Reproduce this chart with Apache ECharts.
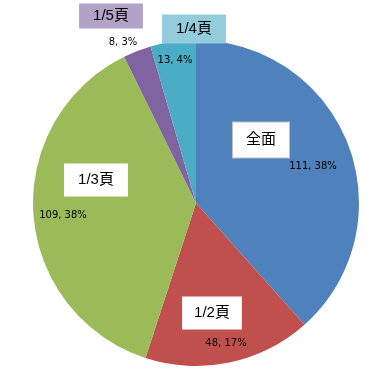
<!DOCTYPE html>
<html>
<head>
<meta charset="utf-8">
<script src="https://cdn.jsdelivr.net/npm/echarts@6/dist/echarts.min.js"></script>
<style>html,body{margin:0;padding:0;background:#fff;}#c{width:388px;height:385px;}</style>
</head>
<body>
<div id="c"></div>
<script>
var categories = ['全面', '1/2頁', '1/3頁', '1/5頁', '1/4頁'];
var values = [111, 48, 109, 8, 13];
var colors = ['#4F81BD', '#C0504D', '#9BBB59', '#8064A2', '#4BACC6'];

// label anchors, relative to the pie centre (px)
var nameLabelOffsets = [[65, -63], [16, 110], [-100, -23], [-85, -187], [-2, -174]];
var valueLabelOffsets = [[117, -37], [30, 140], [-133, 12], [-73, -161], [-21, -143]];
var nameBoxStyles = [
  {bg: '#FFFFFF', border: '#BFBFBF', pad: [10, 13]},
  {bg: '#FFFFFF', border: null, pad: [9, 12]},
  {bg: '#FFFFFF', border: null, pad: [9, 14]},
  {bg: '#B3A2C7', border: null, pad: [5, 14]},
  {bg: '#93CDDD', border: null, pad: [7, 14]}
];

var total = values.reduce(function (a, b) { return a + b; }, 0);
var CX = 196, CY = 203, R = 163;
var chart = echarts.init(document.getElementById('c'));

var valueData = categories.map(function (n, i) {
  return {name: n, value: values[i], itemStyle: {color: colors[i]}};
});
var nameData = categories.map(function (n, i) {
  var s = nameBoxStyles[i];
  return {
    name: n, value: values[i],
    label: {
      backgroundColor: s.bg,
      borderColor: s.border || 'transparent',
      borderWidth: s.border ? 1 : 0,
      padding: s.pad
    }
  };
});

chart.setOption({
  animation: false,
  series: [
    {
      type: 'pie',
      center: [CX, CY],
      radius: R,
      startAngle: 90,
      clockwise: true,
      data: valueData,
      itemStyle: {borderWidth: 0},
      emphasis: {disabled: true},
      labelLine: {show: false},
      label: {
        show: true,
        position: 'inside',
        color: '#000',
        fontFamily: 'DejaVu Sans',
        fontSize: 10,
        formatter: function (p) { return p.value + ', ' + Math.round(p.value / total * 100) + '%'; }
      },
      labelLayout: function (p) {
        var o = valueLabelOffsets[p.dataIndex];
        return {x: CX + o[0], y: CY + o[1], align: 'center', verticalAlign: 'middle'};
      }
    },
    {
      type: 'pie',
      center: [CX, CY],
      radius: R,
      startAngle: 90,
      clockwise: true,
      silent: true,
      data: nameData,
      itemStyle: {color: 'rgba(0,0,0,0)', borderWidth: 0},
      emphasis: {disabled: true},
      labelLine: {show: false},
      label: {
        show: true,
        position: 'inside',
        color: '#000',
        fontFamily: '"Liberation Sans", "Noto Sans CJK JP"',
        fontSize: 15,
        formatter: '{b}'
      },
      labelLayout: function (p) {
        var o = nameLabelOffsets[p.dataIndex];
        return {x: CX + o[0], y: CY + o[1], align: 'center', verticalAlign: 'middle'};
      }
    }
  ]
});
</script>
</body>
</html>
